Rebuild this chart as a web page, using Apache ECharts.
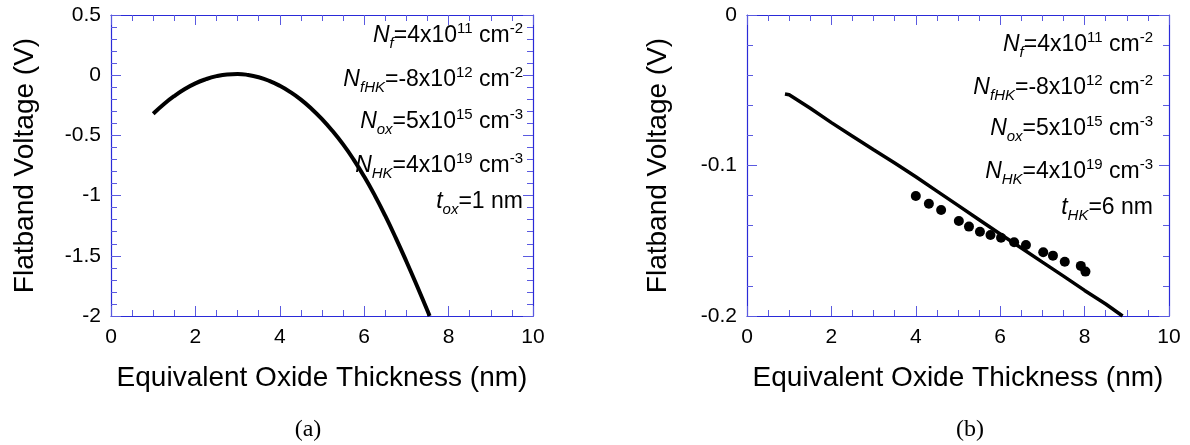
<!DOCTYPE html>
<html>
<head>
<meta charset="utf-8">
<script src="https://cdn.jsdelivr.net/npm/echarts@6/dist/echarts.min.js"></script>
<style>
  html, body { margin: 0; padding: 0; background: #fff; }
  #chart { width: 1190px; height: 445px; }
</style>
</head>
<body>
<div id="chart"></div>
<script>
// Panel (a): simulated flatband voltage vs. EOT (t_ox = 1 nm)
const eotA = [1.0, 1.25, 1.5, 1.75, 2.0, 2.25, 2.5, 2.75, 3.0, 3.25, 3.5, 3.75, 4.0, 4.25,
              4.5, 4.75, 5.0, 5.25, 5.5, 5.75, 6.0, 6.25, 6.5, 6.75, 7.0, 7.25, 7.5, 7.55];
const vfbA = [-0.32, -0.241, -0.173, -0.115, -0.068, -0.033, -0.008, 0.0065, 0.01, 0.002, -0.017, -0.047, -0.088, -0.140,
              -0.203, -0.278, -0.365, -0.464, -0.575, -0.701, -0.842, -0.998, -1.169, -1.353, -1.547, -1.749, -1.957, -2.0];

// Panel (b): simulated line (t_HK = 6 nm) and measured points
const eotB = [0.9, 1.0, 1.5, 2.0, 2.5, 3.0, 3.5, 4.0, 4.5, 5.0, 5.5, 6.0, 6.5, 7.0, 7.5, 8.0, 8.5, 8.9];
const vfbB = [-0.0525, -0.053, -0.062, -0.0715, -0.0805, -0.0895, -0.0983, -0.1075, -0.117, -0.1265,
              -0.136, -0.1455, -0.1548, -0.1642, -0.1735, -0.183, -0.192, -0.2];
const eotMeas = [4.00, 4.31, 4.60, 5.02, 5.26, 5.52, 5.77, 6.02, 6.33, 6.61, 7.02, 7.25, 7.53, 7.91, 8.02];
const vfbMeas = [-0.1203, -0.1254, -0.1296, -0.1369, -0.1406, -0.1440, -0.1462, -0.1480, -0.1510,
                 -0.1528, -0.1577, -0.1599, -0.1639, -0.1667, -0.1705];

// Tick values
const xTicks = [0, 2, 4, 6, 8, 10];
const yTicksA = [-2, -1.5, -1, -0.5, 0, 0.5];
const yTicksB = [-0.2, -0.1, 0];

// Axis titles and panel tags
const xTitle = 'Equivalent Oxide Thickness (nm)';
const yTitle = 'Flatband Voltage (V)';
const panelTags = ['(a)', '(b)'];

// Parameter annotations: [style, text] tokens per row
const paramsA = [
  [['i', 'N'], ['sub', 'f'], ['n', '=4x10'], ['sup', '11'], ['n', ' cm'], ['sup', '-2']],
  [['i', 'N'], ['sub', 'fHK'], ['n', '=-8x10'], ['sup', '12'], ['n', ' cm'], ['sup', '-2']],
  [['i', 'N'], ['sub', 'ox'], ['n', '=5x10'], ['sup', '15'], ['n', ' cm'], ['sup', '-3']],
  [['i', 'N'], ['sub', 'HK'], ['n', '=4x10'], ['sup', '19'], ['n', ' cm'], ['sup', '-3']],
  [['i', 't'], ['sub', 'ox'], ['n', '=1 nm']]
];
const paramsB = [
  [['i', 'N'], ['sub', 'f'], ['n', '=4x10'], ['sup', '11'], ['n', ' cm'], ['sup', '-2']],
  [['i', 'N'], ['sub', 'fHK'], ['n', '=-8x10'], ['sup', '12'], ['n', ' cm'], ['sup', '-2']],
  [['i', 'N'], ['sub', 'ox'], ['n', '=5x10'], ['sup', '15'], ['n', ' cm'], ['sup', '-3']],
  [['i', 'N'], ['sub', 'HK'], ['n', '=4x10'], ['sup', '19'], ['n', ' cm'], ['sup', '-3']],
  [['i', 't'], ['sub', 'HK'], ['n', '=6 nm']]
];

const SANS = '"Liberation Sans", Arial, sans-serif';
const SERIF = '"Liberation Serif", "Times New Roman", serif';
const AXIS_BLUE = '#2a2ad8';
const TICK_BLUE = '#5a5ae0';

const rich = {
  n:   { fontFamily: SANS, fontSize: 23, lineHeight: 30, verticalAlign: 'middle', color: '#000' },
  i:   { fontFamily: SANS, fontSize: 23, fontStyle: 'italic', lineHeight: 30, verticalAlign: 'middle', color: '#000' },
  sub: { fontFamily: SANS, fontSize: 15, fontStyle: 'italic', lineHeight: 12, verticalAlign: 'bottom', color: '#000' },
  sup: { fontFamily: SANS, fontSize: 15, lineHeight: 24, verticalAlign: 'top', color: '#000' }
};
const toRich = tokens => tokens.map(([s, t]) => '{' + s + '|' + t + '}').join('');

const zip = (xs, ys) => xs.map((x, k) => [x, ys[k]]);
const step = arr => +(arr[1] - arr[0]).toFixed(6);

function xAxisPair(gridIndex) {
  const base = {
    gridIndex, type: 'value', min: xTicks[0], max: xTicks[xTicks.length - 1], interval: step(xTicks),
    axisLine: { show: true, onZero: false, lineStyle: { color: AXIS_BLUE, width: 1.2 } },
    axisTick: { show: true, inside: true, length: 10, lineStyle: { color: TICK_BLUE, width: 1 } },
    minorTick: { show: true, splitNumber: 4, length: 6, lineStyle: { color: TICK_BLUE, width: 1 } },
    splitLine: { show: false }
  };
  return [
    Object.assign({}, base, {
      position: 'bottom',
      axisLabel: { show: true, color: '#000', fontFamily: SANS, fontSize: 21, margin: 11 },
      name: xTitle, nameLocation: 'middle', nameGap: 48,
      nameTextStyle: { color: '#000', fontFamily: SANS, fontSize: 28 }
    }),
    Object.assign({}, base, { position: 'top', axisLabel: { show: false } })
  ];
}

function yAxisPair(gridIndex, ticks, nameGap) {
  const base = {
    gridIndex, type: 'value', min: ticks[0], max: ticks[ticks.length - 1], interval: step(ticks),
    axisLine: { show: true, onZero: false, lineStyle: { color: AXIS_BLUE, width: 1.2 } },
    axisTick: { show: true, inside: true, length: 10, lineStyle: { color: TICK_BLUE, width: 1 } },
    minorTick: { show: true, splitNumber: 5, length: 6, lineStyle: { color: TICK_BLUE, width: 1 } },
    splitLine: { show: false }
  };
  return [
    Object.assign({}, base, {
      position: 'left',
      axisLabel: { show: true, color: '#000', fontFamily: SANS, fontSize: 21, margin: 10,
                   formatter: v => String(+v.toFixed(6)) },
      name: yTitle, nameLocation: 'middle', nameGap,
      nameTextStyle: { color: '#000', fontFamily: SANS, fontSize: 28 }
    }),
    Object.assign({}, base, { position: 'right', axisLabel: { show: false } })
  ];
}

function paramTexts(rows, right, ys) {
  return rows.map((tokens, k) => ({
    type: 'text', x: right, y: ys[k], z: 10,
    style: { text: toRich(tokens), rich, align: 'right', verticalAlign: 'middle' }
  }));
}

const chart = echarts.init(document.getElementById('chart'), null, { renderer: 'canvas' });

chart.setOption({
  backgroundColor: '#fff',
  animation: false,
  grid: [
    { left: 111, top: 15, width: 422, height: 301 },
    { left: 747, top: 15, width: 422, height: 301 }
  ],
  xAxis: [...xAxisPair(0), ...xAxisPair(1)],
  yAxis: [...yAxisPair(0, yTicksA, 72), ...yAxisPair(1, yTicksB, 75)],
  series: [
    {
      type: 'line', xAxisIndex: 0, yAxisIndex: 0, data: zip(eotA, vfbA),
      showSymbol: false, smooth: true, lineStyle: { color: '#000', width: 4 }
    },
    {
      type: 'line', xAxisIndex: 2, yAxisIndex: 2, data: zip(eotB, vfbB),
      showSymbol: false, lineStyle: { color: '#000', width: 3.5 }
    },
    {
      type: 'scatter', xAxisIndex: 2, yAxisIndex: 2, data: zip(eotMeas, vfbMeas),
      symbol: 'circle', symbolSize: 10, itemStyle: { color: '#000', opacity: 1 }, z: 3
    }
  ],
  graphic: [
    ...paramTexts(paramsA, 523, [36, 80, 122, 166, 202]),
    ...paramTexts(paramsB, 1153, [45, 88, 129, 172, 208]),
    { type: 'text', x: 308, y: 430, style: { text: panelTags[0], font: '24px ' + SERIF, fill: '#000', align: 'center', verticalAlign: 'middle' } },
    { type: 'text', x: 970, y: 430, style: { text: panelTags[1], font: '24px ' + SERIF, fill: '#000', align: 'center', verticalAlign: 'middle' } }
  ]
});
</script>
</body>
</html>
